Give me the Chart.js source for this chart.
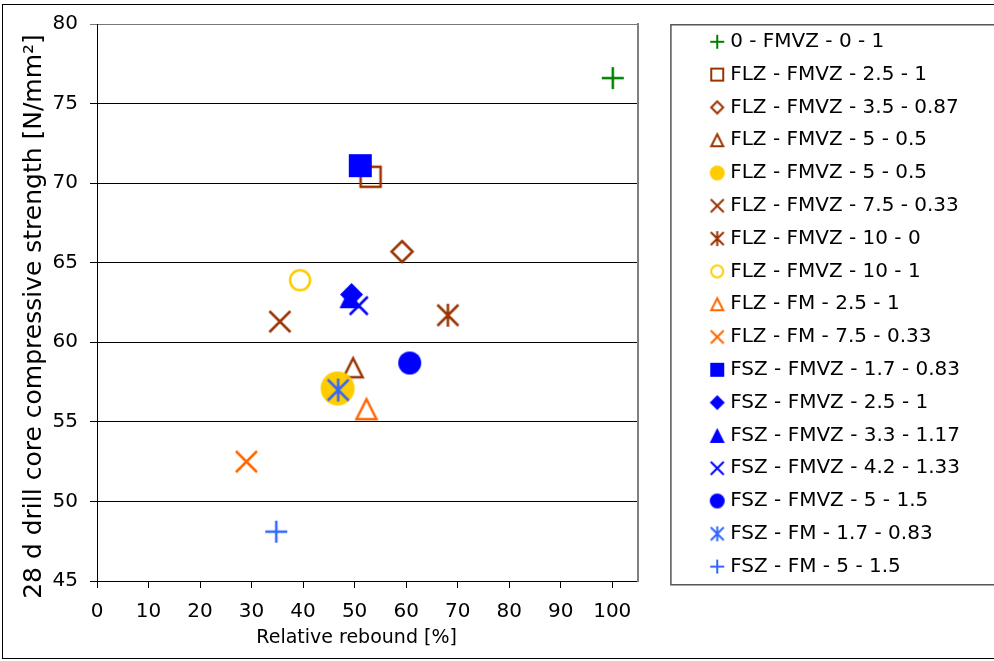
<!DOCTYPE html>
<html><head><meta charset="utf-8">
<script src="https://cdn.jsdelivr.net/npm/chart.js@4"></script>
<style>html,body{margin:0;padding:0;background:#fff;}canvas{display:block;}</style>
</head><body>
<canvas id="c" width="994" height="661"></canvas>
<script>
// ---------- data ----------
const seriesNames = [
  '0 - FMVZ - 0 - 1',
  'FLZ - FMVZ - 2.5 - 1',
  'FLZ - FMVZ - 3.5 - 0.87',
  'FLZ - FMVZ - 5 - 0.5',
  'FLZ - FMVZ - 5 - 0.5',
  'FLZ - FMVZ - 7.5 - 0.33',
  'FLZ - FMVZ - 10 - 0',
  'FLZ - FMVZ - 10 - 1',
  'FLZ - FM - 2.5 - 1',
  'FLZ - FM - 7.5 - 0.33',
  'FSZ - FMVZ - 1.7 - 0.83',
  'FSZ - FMVZ - 2.5 - 1',
  'FSZ - FMVZ - 3.3 - 1.17',
  'FSZ - FMVZ - 4.2 - 1.33',
  'FSZ - FMVZ - 5 - 1.5',
  'FSZ - FM - 1.7 - 0.83',
  'FSZ - FM - 5 - 1.5'
];
const relativeRebound =     [100.1, 53.1, 59.2, 49.7, 46.7, 35.5, 68.1, 39.4, 52.3, 29.0, 51.1, 49.4, 49.1, 50.8, 60.7, 46.8, 34.8];
const compressiveStrength = [ 76.6, 70.4, 65.7, 58.4, 57.1, 61.3, 61.7, 63.9, 55.8, 52.5, 71.1, 63.0, 62.8, 62.3, 58.7, 57.0, 48.1];
const xTickValues = [0, 10, 20, 30, 40, 50, 60, 70, 80, 90, 100];
const yTickValues = [45, 50, 55, 60, 65, 70, 75, 80];
const xTitle = 'Relative rebound [%]';
const yTitle = '28 d drill core compressive strength [N/mm\u00B2]';

// ---------- styles ----------
const G = '#008000', BR = '#993300', Y = '#FFCC00', OR = '#FF6600', BL = '#0000FF', LB = '#3366FF';
const markerStyles = [
  {shape:'plus',     color:G,  fill:false, size:22, lsize:14},
  {shape:'square',   color:BR, fill:false, size:20, lsize:12},
  {shape:'diamond',  color:BR, fill:false, size:21, lsize:12},
  {shape:'triangle', color:BR, fill:false, size:19, lsize:12},
  {shape:'circle',   color:Y,  fill:true,  size:34, lsize:15},
  {shape:'x',        color:BR, fill:false, size:21, lsize:13},
  {shape:'star',     color:BR, fill:false, size:21, lsize:13},
  {shape:'circle',   color:Y,  fill:false, size:20, lsize:12},
  {shape:'triangle', color:OR, fill:false, size:20, lsize:12},
  {shape:'x',        color:OR, fill:false, size:21, lsize:13},
  {shape:'square',   color:BL, fill:true,  size:23, lsize:14},
  {shape:'diamond',  color:BL, fill:true,  size:23, lsize:15},
  {shape:'triangle', color:BL, fill:true,  size:21, lsize:15},
  {shape:'x',        color:BL, fill:false, size:18, lsize:13},
  {shape:'circle',   color:BL, fill:true,  size:23, lsize:15},
  {shape:'star',     color:LB, fill:false, size:21, lsize:13},
  {shape:'plus',     color:LB, fill:false, size:22, lsize:14}
];

function makeMarker(st, s, lw) {
  const pad = Math.ceil(lw) + 3;
  const n = Math.ceil(s + 2 * pad);
  const c = document.createElement('canvas');
  c.width = n; c.height = n;
  const g = c.getContext('2d');
  const m = n / 2, h = s / 2;
  g.strokeStyle = st.color; g.fillStyle = st.color; g.lineWidth = lw;
  g.lineJoin = 'miter'; g.lineCap = 'butt';
  g.beginPath();
  switch (st.shape) {
    case 'plus':
      g.moveTo(m - h, m); g.lineTo(m + h, m); g.moveTo(m, m - h); g.lineTo(m, m + h); g.stroke(); return c;
    case 'x':
      g.moveTo(m - h, m - h); g.lineTo(m + h, m + h); g.moveTo(m + h, m - h); g.lineTo(m - h, m + h); g.stroke(); return c;
    case 'star':
      g.moveTo(m - h, m - h); g.lineTo(m + h, m + h); g.moveTo(m + h, m - h); g.lineTo(m - h, m + h);
      g.moveTo(m, m - h - 1); g.lineTo(m, m + h + 1); g.stroke(); return c;
    case 'square':
      g.rect(m - h, m - h, s, s); break;
    case 'diamond':
      g.moveTo(m, m - h); g.lineTo(m + h, m); g.lineTo(m, m + h); g.lineTo(m - h, m); g.closePath(); break;
    case 'triangle':
      g.moveTo(m, m - h); g.lineTo(m + h, m + h); g.lineTo(m - h, m + h); g.closePath(); break;
    case 'circle':
      g.arc(m, m, h, 0, Math.PI * 2); break;
  }
  if (st.fill) g.fill(); else g.stroke();
  return c;
}
const chartMarkers = markerStyles.map(st => makeMarker(st, st.size, 2.5));
const legendMarkers = markerStyles.map(st => makeMarker(st, st.lsize, 2));

const FONT = '"DejaVu Sans", "Liberation Sans", sans-serif';
Chart.defaults.font.family = FONT;
Chart.defaults.color = '#000';

const datasets = seriesNames.map((name, i) => ({
  label: name,
  data: [{x: relativeRebound[i], y: compressiveStrength[i]}],
  pointStyle: chartMarkers[i],
  pointRadius: 10,
  borderColor: markerStyles[i].color,
  backgroundColor: markerStyles[i].color,
  order: seriesNames.length - i
}));

const decor = {
  id: 'decor',
  afterLayout(chart) {
    // let the legend box reach the canvas edge so its long labels are not clipped
    const lg = chart.legend;
    lg.right = chart.width;
    lg.width = lg.right - lg.left;
  },
  afterDraw(chart) {
    const ctx = chart.ctx, a = chart.chartArea, lg = chart.legend, xs = chart.scales.x;
    ctx.save();
    // outer frame
    ctx.strokeStyle = '#000'; ctx.lineWidth = 1;
    ctx.strokeRect(2.5, 4.5, 1100, 654);
    // legend frame
    ctx.strokeStyle = '#555'; ctx.lineWidth = 1.5;
    ctx.strokeRect(lg.left - 30.5, a.top + 0.75, 500, a.bottom + 3 - a.top);
    // axis titles
    ctx.fillStyle = '#000';
    ctx.font = '19px ' + FONT;
    ctx.textAlign = 'center'; ctx.textBaseline = 'middle';
    const xMid = (xs.getPixelForValue(xTickValues[0]) + xs.getPixelForValue(xTickValues[xTickValues.length - 1])) / 2;
    ctx.fillText(xTitle, xMid + 2, a.bottom + 57);
    ctx.translate(41, (a.top + a.bottom) / 2 + 14);
    ctx.rotate(-Math.PI / 2);
    ctx.font = '25px ' + FONT;
    ctx.textBaseline = 'alphabetic';
    ctx.fillText(yTitle, 0, 0);
    ctx.restore();
  }
};

new Chart(document.getElementById('c'), {
  type: 'scatter',
  data: { datasets },
  plugins: [decor],
  options: {
    responsive: false,
    animation: false,
    events: [],
    layout: { padding: { left: 0, top: 23, right: 172.6, bottom: 0 } },
    scales: {
      x: {
        type: 'linear', position: 'bottom', min: 0, max: 105,
        afterBuildTicks: s => { s.ticks = xTickValues.map(v => ({value: v})); },
        afterFit: s => { s.height = 80; },
        ticks: { font: { size: 20 }, color: '#000', padding: 12, maxRotation: 0, autoSkip: false },
        grid: { drawOnChartArea: false, drawTicks: true, tickLength: 7, color: '#000', lineWidth: 1 },
        border: { color: '#000', width: 1 }
      },
      y: {
        type: 'linear', position: 'left', min: 45, max: 80,
        afterBuildTicks: s => { s.ticks = yTickValues.map(v => ({value: v})); },
        afterFit: s => { s.width = 97; },
        ticks: { font: { size: 20 }, color: '#000', padding: 12 },
        grid: { color: c => (c.tick && c.tick.value === 80 ? '#777' : '#000'), lineWidth: 1, tickLength: 7, drawTicks: true },
        border: { color: '#000', width: 1 }
      },
      y2: {
        type: 'linear', position: 'right', display: true,
        afterFit: s => { s.width = 63.4; },
        ticks: { display: false },
        grid: { display: false },
        border: { display: true, color: '#808080', width: 2 }
      }
    },
    plugins: {
      tooltip: { enabled: false },
      legend: {
        display: true, position: 'right', align: 'start', fullSize: true, maxWidth: 120,
        title: { display: true, text: '', padding: { top: -4, bottom: 0 }, font: { size: 1, lineHeight: 0 } },
        labels: {
          usePointStyle: true, boxWidth: 6, boxHeight: 6, padding: 12.8,
          font: { size: 20 }, color: '#000',
          generateLabels: chart => chart.data.datasets.map((ds, i) => ({
            text: ds.label, pointStyle: legendMarkers[i], fillStyle: 'transparent',
            strokeStyle: 'transparent', lineWidth: 0, hidden: false, datasetIndex: i, fontColor: '#000'
          }))
        }
      }
    }
  }
});
</script>
</body></html>
